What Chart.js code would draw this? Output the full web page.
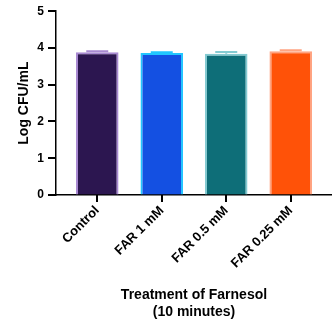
<!DOCTYPE html>
<html>
<head>
<meta charset="utf-8">
<script src="https://cdn.jsdelivr.net/npm/chart.js@4"></script>
<style>
  html, body { margin: 0; padding: 0; background: #fff; }
  #wrap { width: 332px; height: 333px; }
</style>
</head>
<body>
<div id="wrap"><canvas id="c" width="332" height="333"></canvas></div>
<script>
// Log CFU/mL after 10 minutes of farnesol treatment
const categories = ['Control', 'FAR 1 mM', 'FAR 0.5 mM', 'FAR 0.25 mM'];
const means = [3.88, 3.86, 3.84, 3.91];
const sd = [0.03, 0.02, 0.05, 0.03];
const yTicks = [0, 1, 2, 3, 4, 5];
const fillColors = ['#2c1650', '#1450e2', '#0e6e78', '#ff5208'];
const edgeColors = ['#a98ad2', '#22c6ff', '#84cbd2', '#ffa482'];

const FONT = '"Liberation Sans", Arial, sans-serif';
const X_TICK_LEN = 7;
const Y_TICK_LEN = 8;

// Error bars (mean + SD) drawn through the chart's scales
const errorBars = {
  id: 'errorBars',
  afterDatasetsDraw(chart) {
    const { ctx, scales: { x, y } } = chart;
    ctx.save();
    ctx.lineWidth = 2;
    means.forEach((m, i) => {
      const cx = x.getPixelForValue(i);
      const top = y.getPixelForValue(m + sd[i]);
      const base = y.getPixelForValue(m);
      ctx.strokeStyle = edgeColors[i];
      ctx.beginPath();
      ctx.moveTo(cx, base);
      ctx.lineTo(cx, top);
      ctx.moveTo(cx - 11, top);
      ctx.lineTo(cx + 11, top);
      ctx.stroke();
    });
    ctx.restore();
  }
};

// Outward tick marks on both axes, placed by the scales
const tickMarks = {
  id: 'tickMarks',
  afterDraw(chart) {
    const { ctx, chartArea, scales: { x, y } } = chart;
    ctx.save();
    ctx.fillStyle = '#000';
    x.ticks.forEach(t => {
      const px = Math.round(x.getPixelForValue(t.value));
      ctx.fillRect(px - 1, chartArea.bottom, 2, X_TICK_LEN);
    });
    y.ticks.forEach(t => {
      const py = Math.round(y.getPixelForValue(t.value));
      ctx.fillRect(chartArea.left - Y_TICK_LEN, py - 1, Y_TICK_LEN, 2);
    });
    ctx.restore();
  }
};

new Chart(document.getElementById('c'), {
  type: 'bar',
  data: {
    datasets: [{
      data: means.map((v, i) => ({ x: i, y: v })),
      backgroundColor: fillColors,
      borderColor: edgeColors,
      borderWidth: 2,
      borderSkipped: 'bottom',
      barPercentage: 0.66,
      categoryPercentage: 1
    }]
  },
  options: {
    responsive: false,
    animation: false,
    layout: { padding: { top: 5, right: 0, left: 12, bottom: 0 } },
    plugins: { legend: { display: false }, tooltip: { enabled: false } },
    scales: {
      x: {
        type: 'linear',
        offset: false,
        min: -0.64,
        max: 3.64,
        afterBuildTicks(scale) {
          scale.ticks = categories.map((_, i) => ({ value: i }));
        },
        afterFit(scale) { scale.height = 138; },
        border: { display: true, color: '#000', width: 1.5 },
        grid: {
          display: true, offset: false, drawOnChartArea: false, drawTicks: true,
          tickLength: X_TICK_LEN, color: 'rgba(0,0,0,0)', tickColor: 'rgba(0,0,0,0)'
        },
        ticks: {
          minRotation: 45,
          maxRotation: 45,
          autoSkip: false,
          padding: 1,
          color: '#000',
          font: { family: FONT, size: 13, weight: 'bold' },
          callback: (v) => categories[v] ?? ''
        },
        title: {
          display: true,
          text: ['Treatment of Farnesol', '(10 minutes)'],
          color: '#000',
          font: { family: FONT, size: 14, weight: 'bold', lineHeight: 1.25 },
          padding: { top: 0, bottom: 12 }
        }
      },
      y: {
        min: 0,
        max: 5,
        afterBuildTicks(scale) {
          scale.ticks = yTicks.map(v => ({ value: v }));
        },
        afterFit(scale) { scale.width = 44; },
        border: { display: true, color: '#000', width: 1.5 },
        grid: {
          display: true, drawOnChartArea: false, drawTicks: true,
          tickLength: Y_TICK_LEN, color: 'rgba(0,0,0,0)', tickColor: 'rgba(0,0,0,0)'
        },
        ticks: {
          padding: 4,
          color: '#000',
          font: { family: FONT, size: 12, weight: 'bold' }
        },
        title: {
          display: true,
          text: 'Log CFU/mL',
          color: '#000',
          font: { family: FONT, size: 14, weight: 'bold' },
          padding: { top: 4, bottom: 3 }
        }
      }
    }
  },
  plugins: [errorBars, tickMarks]
});
</script>
</body>
</html>
